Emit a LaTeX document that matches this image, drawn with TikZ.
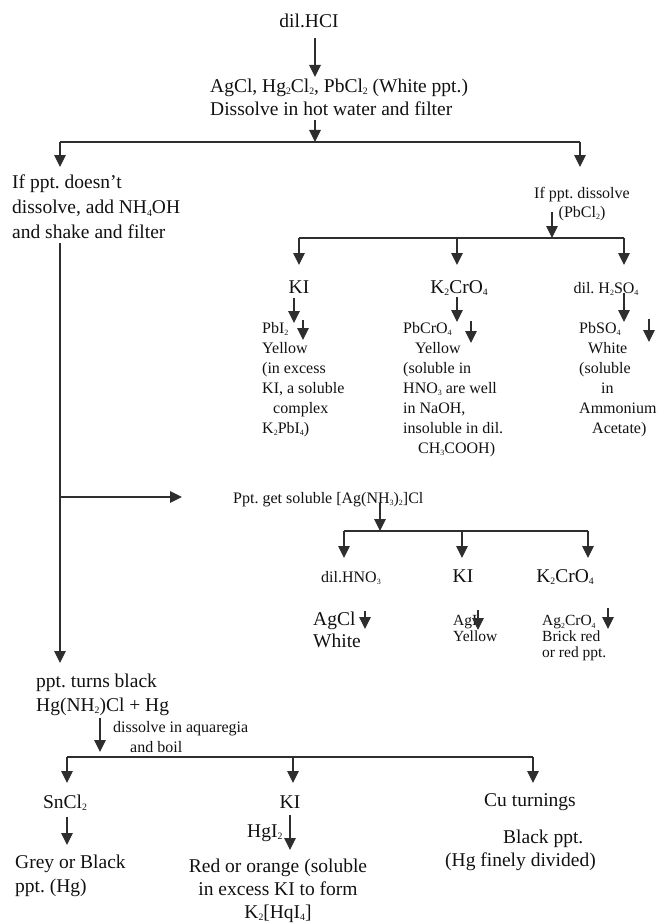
\documentclass[tikz,border=0pt]{standalone}
\usepackage{fontspec}
\usepackage{graphicx}
\setmainfont{Liberation Serif}
\usetikzlibrary{arrows.meta}
\definecolor{ink}{HTML}{2E2E2E}
\definecolor{txt}{HTML}{111111}
\newcommand\sbs[1]{\raisebox{-0.3ex}{\scalebox{0.5}{#1}}}
\tikzset{
  big/.style={font=\fontsize{19.5}{24}\selectfont, inner sep=0pt, text=txt},
  sml/.style={font=\fontsize{16}{20}\selectfont, inner sep=0pt, text=txt},
  tiny15/.style={font=\fontsize{15.5}{16}\selectfont, inner sep=0pt, text=txt},
  arr/.style={draw=ink, line width=1.1pt, -{Triangle[width=11.5pt,length=12pt]}},
  ln/.style={draw=ink, line width=1.1pt},
}
\begin{document}
\frenchspacing
\begin{tikzpicture}[x=1pt,y=-1pt]
\useasboundingbox (0,0) rectangle (656,923);
% ---------- texts ----------
\node[big, anchor=base] (hcl) at (309,28) {dil.HCI};
\node[big, anchor=north west, align=left, font=\fontsize{19.5}{23}\selectfont] (agcl) at (210,78.5) {AgCl, Hg\sbs{2}Cl\sbs{2}, PbCl\sbs{2} (White ppt.)\\Dissolve in hot water and filter};
\node[big, anchor=north west, align=left, font=\fontsize{19.5}{25}\selectfont] (nodis) at (12,174.5) {If ppt. doesn't\\dissolve, add NH\sbs{4}OH\\and shake and filter};
\node[sml, anchor=north, align=center, font=\fontsize{16}{19}\selectfont] (dis) at (582,187) {If ppt. dissolve\\(PbCl\sbs{2})};
\node[big, anchor=base] (ki1) at (299,293) {KI};
\node[big, anchor=base] (kcr1) at (459,293) {K\sbs{2}CrO\sbs{4}};
\node[sml, anchor=base] (hso) at (606,293) {dil. H\sbs{2}SO\sbs{4}};
\node[sml, anchor=north west, align=left] (pbi) at (262,322) {PbI\sbs{2}\\Yellow\\(in excess\\KI, a soluble\\\hspace*{11pt}complex\\K\sbs{2}PbI\sbs{4})};
\node[sml, anchor=north west, align=left] (pbcr) at (403,322) {PbCrO\sbs{4}\\\hspace*{12pt}Yellow\\(soluble in\\HNO\sbs{3} are well\\in NaOH,\\insoluble in dil.\\\hspace*{15pt}CH\sbs{3}COOH)};
\node[sml, anchor=north west, align=left] (pbso) at (579,322) {PbSO\sbs{4}\\\hspace*{9pt}White\\(soluble\\\hspace*{22pt}in\\Ammonium\\\hspace*{13pt}Acetate)};
\node[sml, anchor=base west] (agsol) at (233,503) {Ppt. get soluble [Ag(NH\sbs{3})\sbs{2}]Cl};
\node[sml, anchor=base] (hno) at (351,582) {dil.HNO\sbs{3}};
\node[big, anchor=base] (ki2) at (463,582) {KI};
\node[big, anchor=base] (kcr2) at (565,582) {K\sbs{2}CrO\sbs{4}};
\node[big, anchor=north west, align=left, font=\fontsize{19.5}{22}\selectfont] (agcl2) at (313,611.5) {AgCl\\White};
\node[tiny15, anchor=north west, align=left] (agi) at (453,615.5) {AgI\\Yellow};
\node[tiny15, anchor=north west, align=left] (agcr) at (542,615.5) {Ag\sbs{2}CrO\sbs{4}\\Brick red\\or red ppt.};
\node[big, anchor=north west, align=left] (black) at (36,673.5) {ppt. turns black\\Hg(NH\sbs{2})Cl + Hg};
\node[sml, anchor=north west, align=left] (aqua) at (113,721) {dissolve in aquaregia\\\hspace*{17pt}and boil};
\node[big, anchor=base] (sncl) at (65,808) {SnCl\sbs{2}};
\node[big, anchor=base] (ki3) at (290,808) {KI};
\node[big, anchor=base] (cu) at (530,806) {Cu turnings};
\node[big, anchor=north west, align=left] (grey) at (15,854.5) {Grey or Black\\ppt. (Hg)};
\node[big, anchor=base west] (hgi) at (247,837) {HgI\sbs{2}};
\node[big, anchor=north, align=center, font=\fontsize{19.5}{23}\selectfont] (red) at (278,858.5) {Red or orange (soluble\\in excess KI to form\\K\sbs{2}[HqI\sbs{4}]};
\node[big, anchor=north west, align=left, font=\fontsize{19.5}{23}\selectfont] (blk) at (445,829.5) {\hspace*{58pt}Black ppt.\\(Hg finely divided)};
% ---------- coordinates ----------
\coordinate (t1a) at (315,38);  \coordinate (t1b) at (315,77);
\coordinate (t2a) at (315,120); \coordinate (t2b) at (315,142);
\coordinate (h1l) at (60,142);  \coordinate (h1r) at (580,142);
\coordinate (d1l) at (60,167);  \coordinate (d1r) at (580,167);
\coordinate (t3a) at (552,212); \coordinate (t3b) at (552,238);
\coordinate (h2l) at (299,238); \coordinate (h2c) at (457,238); \coordinate (h2r) at (624,238);
\coordinate (d2l) at (299,265); \coordinate (d2c) at (457,265); \coordinate (d2r) at (624,265);
\coordinate (k1a) at (294,298); \coordinate (k1b) at (294,323);
\coordinate (k2a) at (457,297); \coordinate (k2b) at (457,322);
\coordinate (k3a) at (624,293); \coordinate (k3b) at (624,322);
\coordinate (p1a) at (303,320); \coordinate (p1b) at (303,340);
\coordinate (p2a) at (471,321); \coordinate (p2b) at (471,343);
\coordinate (p3a) at (649,319); \coordinate (p3b) at (649,342);
\coordinate (lva) at (60,243);  \coordinate (lvb) at (60,663);
\coordinate (lvm) at (60,497);  \coordinate (lvr) at (182,497);
\coordinate (t4a) at (380,503); \coordinate (t4b) at (380,531);
\coordinate (h3l) at (344,531); \coordinate (h3c) at (462,531); \coordinate (h3r) at (588,531);
\coordinate (d3l) at (344,558); \coordinate (d3c) at (462,558); \coordinate (d3r) at (588,558);
\coordinate (q1a) at (365,611); \coordinate (q1b) at (365,629);
\coordinate (q2a) at (478,610); \coordinate (q2b) at (478,630);
\coordinate (q3a) at (608,608); \coordinate (q3b) at (608,629);
\coordinate (t5a) at (100,718); \coordinate (t5b) at (100,752);
\coordinate (h4l) at (67,757);  \coordinate (h4c) at (293,757); \coordinate (h4r) at (533,757);
\coordinate (d4l) at (67,783);  \coordinate (d4c) at (293,783); \coordinate (d4r) at (533,783);
\coordinate (s1a) at (67,817);  \coordinate (s1b) at (67,845);
\coordinate (s2a) at (290,815); \coordinate (s2b) at (290,850);
% ---------- connectors ----------
\draw[arr] (t1a) -- (t1b);
\draw[arr] (t2a) -- (t2b);
\draw[ln] (h1l) -- (h1r);
\draw[arr] (h1l) -- (d1l);
\draw[arr] (h1r) -- (d1r);
\draw[arr] (t3a) -- (t3b);
\draw[ln] (h2l) -- (h2r);
\draw[arr] (h2l) -- (d2l);
\draw[arr] (h2c) -- (d2c);
\draw[arr] (h2r) -- (d2r);
\draw[arr] (k1a) -- (k1b);
\draw[arr] (k2a) -- (k2b);
\draw[arr] (k3a) -- (k3b);
\draw[arr] (p1a) -- (p1b);
\draw[arr] (p2a) -- (p2b);
\draw[arr] (p3a) -- (p3b);
\draw[arr] (lva) -- (lvb);
\draw[arr] (lvm) -- (lvr);
\draw[arr] (t4a) -- (t4b);
\draw[ln] (h3l) -- (h3r);
\draw[arr] (h3l) -- (d3l);
\draw[arr] (h3c) -- (d3c);
\draw[arr] (h3r) -- (d3r);
\draw[arr] (q1a) -- (q1b);
\draw[arr] (q2a) -- (q2b);
\draw[arr] (q3a) -- (q3b);
\draw[arr] (t5a) -- (t5b);
\draw[ln] (h4l) -- (h4r);
\draw[arr] (h4l) -- (d4l);
\draw[arr] (h4c) -- (d4c);
\draw[arr] (h4r) -- (d4r);
\draw[arr] (s1a) -- (s1b);
\draw[arr] (s2a) -- (s2b);
\end{tikzpicture}
\end{document}
